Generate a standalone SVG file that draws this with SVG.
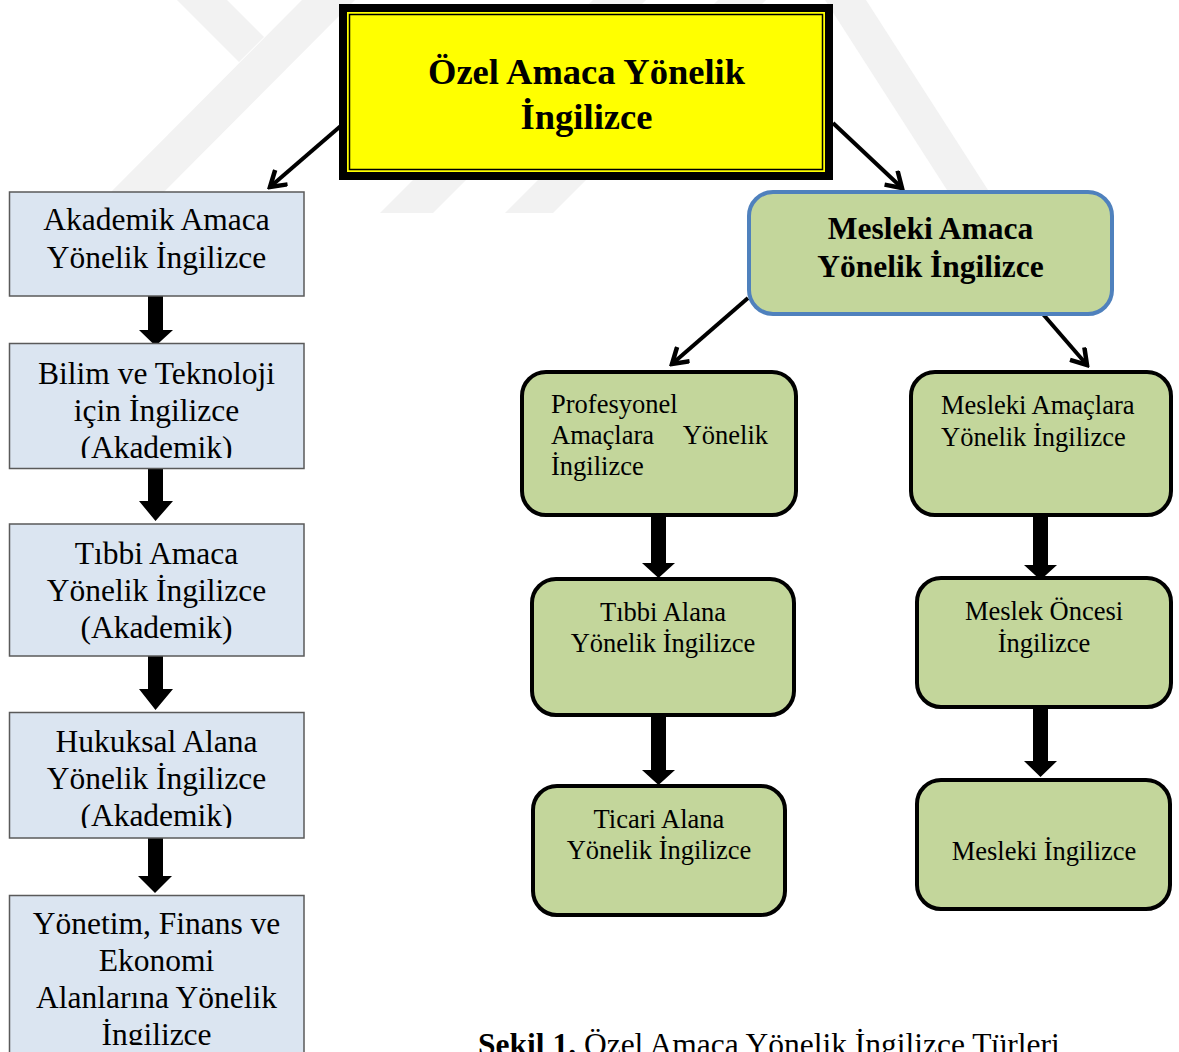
<svg xmlns="http://www.w3.org/2000/svg" width="1179" height="1052" viewBox="0 0 1179 1052">
<defs>
<style>
.wm{fill:#f2f2f2;}
.lb{fill:#dbe5f1;stroke:#5a5a5a;stroke-width:1.5;}
.gb{fill:#c3d69b;stroke:#000;stroke-width:4;}
.t{font-family:"Liberation Serif","Times New Roman",serif;fill:#000;}
.tl{font-size:31.5px;text-anchor:middle;}
.ts{font-size:26.5px;}
.tsc{font-size:26.5px;text-anchor:middle;}
.tb{font-weight:bold;text-anchor:middle;}
.ln{stroke:#000;stroke-width:4;fill:none;marker-end:url(#hd);}
.blk{fill:#000;}
</style>
<marker id="hd" viewBox="0 0 22 22" refX="19" refY="11" markerWidth="22" markerHeight="22" markerUnits="userSpaceOnUse" orient="auto">
<path d="M4,1.5 L19,11 L4,20.5" fill="none" stroke="#000" stroke-width="4.5" stroke-linejoin="miter"/>
</marker>
<clipPath id="c2"><rect x="9" y="343" width="295" height="115"/></clipPath>
<clipPath id="c4"><rect x="9" y="712" width="295" height="116"/></clipPath>
<clipPath id="c5"><rect x="9" y="895" width="295" height="150"/></clipPath>
</defs>
<rect width="1179" height="1052" fill="#fff"/>
<g id="watermark">
<polygon class="wm" points="177,0 227,0 264,37 239,62"/>
<polygon class="wm" points="302,0 355,0 146,210 93,210"/>
<polygon class="wm" points="593,0 646,0 433,213 380,213"/>
<polygon class="wm" points="718,0 766,0 553,213 505,213"/>
<polygon class="wm" points="825,0 866,0 988,190 947,190"/>
</g>
<g id="connectors">
<line class="ln" x1="343" y1="124" x2="270" y2="187"/>
<line class="ln" x1="833" y1="123" x2="902" y2="188"/>
<line class="ln" x1="748" y1="298" x2="672" y2="364"/>
<line class="ln" x1="1042" y1="313" x2="1087" y2="365"/>
<polygon class="blk" points="148,296 163,296 163,330 173,330 155.5,346 139,330 148,330"/>
<polygon class="blk" points="148,468 163,468 163,501 173,501 155.5,521 139,501 148,501"/>
<polygon class="blk" points="148,656 163,656 163,689 173,689 155.5,710 139,689 148,689"/>
<polygon class="blk" points="148,838 163,838 163,876 172,876 155,893 138,876 148,876"/>
<polygon class="blk" points="651,515 666,515 666,563 675,563 658.5,578 642,563 651,563"/>
<polygon class="blk" points="651,715 666,715 666,770 675,770 658.5,785 642,770 651,770"/>
<polygon class="blk" points="1033,515 1048,515 1048,565 1057,565 1040.5,580 1024,565 1033,565"/>
<polygon class="blk" points="1033,706 1048,706 1048,761 1057,761 1040.5,777 1024,761 1033,761"/>
</g>
<g id="n-ozel">
<rect x="343" y="8" width="486" height="168" fill="#ffff00" stroke="#000" stroke-width="8"/>
<rect x="349.5" y="14.5" width="473" height="155" fill="none" stroke="#000" stroke-width="1.5"/>
<text class="t tb" x="586.5" y="84" font-size="36.5">Özel Amaca Yönelik</text>
<text class="t tb" x="586.5" y="129" font-size="36.5">İngilizce</text>
</g>
<g id="n-akademik">
<rect class="lb" x="9.5" y="192" width="294.5" height="104"/>
<text class="t tl" x="156.5" y="230">Akademik Amaca</text>
<text class="t tl" x="156.5" y="268">Yönelik İngilizce</text>
</g>
<g id="n-bilim">
<rect class="lb" x="9.5" y="343.5" width="294.5" height="125"/>
<g clip-path="url(#c2)">
<text class="t tl" x="156.5" y="384">Bilim ve Teknoloji</text>
<text class="t tl" x="156.5" y="421">için İngilizce</text>
<text class="t tl" x="156.5" y="458">(Akademik)</text>
</g>
</g>
<g id="n-tibbi-ak">
<rect class="lb" x="9.5" y="524" width="294.5" height="132"/>
<text class="t tl" x="156.5" y="564">Tıbbi Amaca</text>
<text class="t tl" x="156.5" y="601">Yönelik İngilizce</text>
<text class="t tl" x="156.5" y="638">(Akademik)</text>
</g>
<g id="n-hukuk">
<rect class="lb" x="9.5" y="712.5" width="294.5" height="125.5"/>
<g clip-path="url(#c4)">
<text class="t tl" x="156.5" y="752">Hukuksal Alana</text>
<text class="t tl" x="156.5" y="789">Yönelik İngilizce</text>
<text class="t tl" x="156.5" y="826">(Akademik)</text>
</g>
</g>
<g id="n-yonetim">
<rect class="lb" x="9.5" y="895.5" width="294.5" height="170"/>
<g clip-path="url(#c5)">
<text class="t tl" x="156.5" y="934">Yönetim, Finans ve</text>
<text class="t tl" x="156.5" y="971">Ekonomi</text>
<text class="t tl" x="156.5" y="1008">Alanlarına Yönelik</text>
<text class="t tl" x="156.5" y="1045">İngilizce</text>
</g>
</g>
<g id="n-mesleki">
<rect x="749" y="192" width="363" height="122" rx="24" ry="24" fill="#c3d69b" stroke="#4f81bd" stroke-width="4"/>
<text class="t tb" x="930.5" y="239" font-size="31.5">Mesleki Amaca</text>
<text class="t tb" x="930.5" y="277" font-size="31.5">Yönelik İngilizce</text>
</g>
<g id="n-profesyonel">
<rect class="gb" x="522" y="372" width="274" height="143" rx="24" ry="24"/>
<text class="t ts" x="551" y="413">Profesyonel</text>
<text class="t ts" x="551" y="444">Amaçlara</text>
<text class="t ts" x="768" y="444" text-anchor="end">Yönelik</text>
<text class="t ts" x="551" y="475">İngilizce</text>
</g>
<g id="n-mesleki-amaclara">
<rect class="gb" x="911" y="372" width="260" height="143" rx="24" ry="24"/>
<text class="t ts" x="941" y="414">Mesleki Amaçlara</text>
<text class="t ts" x="941" y="446">Yönelik İngilizce</text>
</g>
<g id="n-tibbi-alan">
<rect class="gb" x="532" y="579" width="262" height="136" rx="24" ry="24"/>
<text class="t tsc" x="663" y="621">Tıbbi Alana</text>
<text class="t tsc" x="663" y="652">Yönelik İngilizce</text>
</g>
<g id="n-ticari">
<rect class="gb" x="533" y="786" width="252" height="129" rx="24" ry="24"/>
<text class="t tsc" x="659" y="828">Ticari Alana</text>
<text class="t tsc" x="659" y="859">Yönelik İngilizce</text>
</g>
<g id="n-meslek-oncesi">
<rect class="gb" x="917" y="578" width="254" height="129" rx="24" ry="24"/>
<text class="t tsc" x="1044" y="620">Meslek Öncesi</text>
<text class="t tsc" x="1044" y="652">İngilizce</text>
</g>
<g id="n-mesleki-ing">
<rect class="gb" x="917" y="780" width="253" height="129" rx="24" ry="24"/>
<text class="t tsc" x="1044" y="860">Mesleki İngilizce</text>
</g>
<g id="caption">
<text class="t" x="478" y="1055" font-size="31.5"><tspan font-weight="bold">Şekil 1.</tspan> Özel Amaca Yönelik İngilizce Türleri</text>
</g>
</svg>
